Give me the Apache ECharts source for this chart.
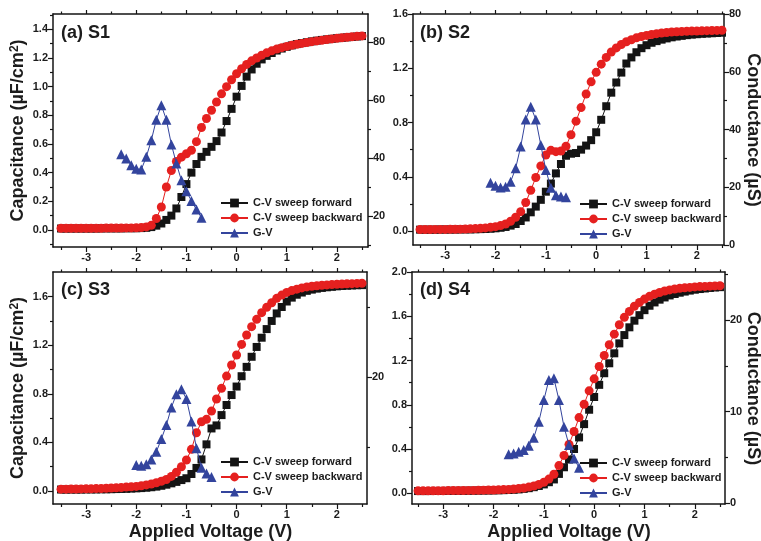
<!DOCTYPE html>
<html>
<head>
<meta charset="utf-8">
<script src="https://cdn.jsdelivr.net/npm/echarts@6/dist/echarts.min.js"></script>
<style>
  html, body { margin: 0; padding: 0; background: #fff; }
  #chart { width: 761px; height: 541px; }
</style>
</head>
<body>
<div id="chart"></div>
<script>
// Applied voltage of every C-V sweep point (V)
const voltage = [
  -3.5, -3.4, -3.3, -3.2, -3.1, -3.0, -2.9, -2.8, -2.7, -2.6,
  -2.5, -2.4, -2.3, -2.2, -2.1, -2.0, -1.9, -1.8, -1.7, -1.6,
  -1.5, -1.4, -1.3, -1.2, -1.1, -1.0, -0.9, -0.8, -0.7, -0.6,
  -0.5, -0.4, -0.3, -0.2, -0.1, 0.0, 0.1, 0.2, 0.3, 0.4,
  0.5, 0.6, 0.7, 0.8, 0.9, 1.0, 1.1, 1.2, 1.3, 1.4,
  1.5, 1.6, 1.7, 1.8, 1.9, 2.0, 2.1, 2.2, 2.3, 2.4, 2.5
];

// S1 capacitance (uF/cm2) and conductance (uS)
const s1Forward = [
  0.010, 0.010, 0.010, 0.010, 0.010, 0.010, 0.010, 0.010, 0.011, 0.011,
  0.011, 0.011, 0.011, 0.012, 0.012, 0.012, 0.013, 0.015, 0.020, 0.030,
  0.045, 0.070, 0.100, 0.150, 0.230, 0.320, 0.400, 0.460, 0.510, 0.545,
  0.580, 0.620, 0.680, 0.760, 0.845, 0.930, 1.005, 1.070, 1.120, 1.160,
  1.190, 1.215, 1.235, 1.252, 1.266, 1.278, 1.288, 1.297, 1.304, 1.310,
  1.316, 1.321, 1.326, 1.330, 1.334, 1.338, 1.341, 1.344, 1.347, 1.350, 1.353
];
const s1Backward = [
  0.012, 0.012, 0.012, 0.012, 0.012, 0.012, 0.012, 0.012, 0.012, 0.013,
  0.013, 0.013, 0.013, 0.014, 0.014, 0.015, 0.017, 0.021, 0.032, 0.080,
  0.160, 0.300, 0.415, 0.478, 0.508, 0.532, 0.556, 0.616, 0.715, 0.778,
  0.835, 0.893, 0.950, 1.000, 1.048, 1.090, 1.125, 1.155, 1.180, 1.200,
  1.220, 1.236, 1.250, 1.262, 1.272, 1.281, 1.289, 1.296, 1.302, 1.308,
  1.314, 1.319, 1.324, 1.329, 1.333, 1.337, 1.341, 1.345, 1.348, 1.351, 1.354
];
const s1GvVoltage = [-2.3, -2.2, -2.1, -2.0, -1.9, -1.8, -1.7, -1.6, -1.5, -1.4, -1.3, -1.2, -1.1, -1.0, -0.9, -0.8, -0.7];
const s1Conductance = [41.4, 39.9, 37.6, 36.4, 36.1, 40.5, 46.2, 53.3, 58.3, 53.3, 44.8, 38.2, 32.4, 28.6, 25.3, 22.3, 19.5];

// S2
const s2Forward = [
  0.010, 0.010, 0.010, 0.010, 0.011, 0.011, 0.011, 0.011, 0.012, 0.012,
  0.012, 0.013, 0.014, 0.015, 0.017, 0.020, 0.024, 0.030, 0.040, 0.052,
  0.074, 0.100, 0.138, 0.180, 0.230, 0.290, 0.350, 0.425, 0.494, 0.555,
  0.570, 0.575, 0.600, 0.630, 0.670, 0.728, 0.820, 0.920, 1.020, 1.095,
  1.168, 1.235, 1.280, 1.318, 1.348, 1.370, 1.388, 1.400, 1.411, 1.420,
  1.428, 1.434, 1.439, 1.444, 1.448, 1.451, 1.454, 1.456, 1.458, 1.460, 1.462
];
const s2Backward = [
  0.011, 0.011, 0.011, 0.012, 0.012, 0.012, 0.013, 0.013, 0.014, 0.015,
  0.016, 0.018, 0.020, 0.023, 0.027, 0.032, 0.040, 0.052, 0.072, 0.102,
  0.143, 0.210, 0.300, 0.395, 0.480, 0.560, 0.595, 0.585, 0.590, 0.625,
  0.710, 0.810, 0.910, 1.010, 1.100, 1.170, 1.230, 1.280, 1.320, 1.350,
  1.375, 1.395, 1.410, 1.424, 1.434, 1.442, 1.449, 1.455, 1.460, 1.464,
  1.467, 1.469, 1.471, 1.473, 1.474, 1.475, 1.476, 1.477, 1.478, 1.479, 1.480
];
const s2GvVoltage = [-2.1, -2.0, -1.9, -1.8, -1.7, -1.6, -1.5, -1.4, -1.3, -1.2, -1.1, -1.0, -0.9, -0.8, -0.7, -0.6];
const s2Conductance = [21.6, 20.5, 19.9, 20.2, 21.9, 26.6, 34.1, 43.5, 47.9, 43.5, 34.6, 26.0, 19.8, 17.2, 16.8, 16.5];

// S3
const s3Forward = [
  0.012, 0.012, 0.012, 0.012, 0.012, 0.013, 0.013, 0.013, 0.014, 0.014,
  0.015, 0.016, 0.017, 0.018, 0.020, 0.022, 0.024, 0.027, 0.031, 0.036,
  0.043, 0.052, 0.063, 0.075, 0.090, 0.105, 0.140, 0.190, 0.260, 0.384,
  0.515, 0.540, 0.625, 0.708, 0.790, 0.860, 0.945, 1.022, 1.105, 1.186,
  1.262, 1.333, 1.400, 1.462, 1.515, 1.560, 1.592, 1.616, 1.634, 1.648,
  1.658, 1.666, 1.672, 1.677, 1.681, 1.685, 1.688, 1.690, 1.692, 1.694, 1.695
];
const s3Backward = [
  0.015, 0.015, 0.016, 0.016, 0.017, 0.018, 0.019, 0.020, 0.021, 0.023,
  0.025, 0.027, 0.029, 0.032, 0.035, 0.038, 0.043, 0.050, 0.058, 0.068,
  0.080, 0.095, 0.120, 0.154, 0.200, 0.255, 0.343, 0.480, 0.570, 0.590,
  0.658, 0.757, 0.845, 0.946, 1.037, 1.120, 1.207, 1.284, 1.353, 1.413,
  1.468, 1.512, 1.550, 1.586, 1.613, 1.635, 1.650, 1.662, 1.672, 1.680,
  1.686, 1.690, 1.694, 1.697, 1.700, 1.702, 1.704, 1.706, 1.707, 1.709, 1.710
];
const s3GvVoltage = [-2.0, -1.9, -1.8, -1.7, -1.6, -1.5, -1.4, -1.3, -1.2, -1.1, -1.0, -0.9, -0.8, -0.7, -0.6, -0.5];
const s3Conductance = [7.5, 7.4, 7.6, 8.3, 9.4, 11.2, 13.2, 15.7, 17.6, 18.3, 16.9, 13.7, 9.9, 7.1, 6.3, 5.8];

// S4
const s4Forward = [
  0.020, 0.020, 0.020, 0.021, 0.021, 0.021, 0.022, 0.022, 0.022, 0.023,
  0.023, 0.024, 0.024, 0.025, 0.025, 0.026, 0.027, 0.028, 0.030, 0.032,
  0.035, 0.040, 0.046, 0.055, 0.066, 0.080, 0.100, 0.125, 0.175, 0.235,
  0.305, 0.400, 0.505, 0.625, 0.755, 0.870, 0.980, 1.085, 1.175, 1.265,
  1.355, 1.430, 1.500, 1.560, 1.610, 1.655, 1.695, 1.725, 1.750, 1.770,
  1.788, 1.801, 1.813, 1.823, 1.832, 1.840, 1.846, 1.851, 1.856, 1.860, 1.863
];
const s4Backward = [
  0.022, 0.022, 0.022, 0.023, 0.023, 0.023, 0.024, 0.024, 0.025, 0.025,
  0.026, 0.026, 0.027, 0.028, 0.029, 0.030, 0.031, 0.033, 0.035, 0.038,
  0.042, 0.048, 0.056, 0.066, 0.080, 0.100, 0.128, 0.172, 0.250, 0.342,
  0.442, 0.558, 0.684, 0.805, 0.926, 1.034, 1.146, 1.246, 1.342, 1.438,
  1.523, 1.590, 1.644, 1.690, 1.725, 1.755, 1.780, 1.800, 1.815, 1.828,
  1.838, 1.846, 1.852, 1.857, 1.861, 1.865, 1.868, 1.870, 1.872, 1.874, 1.876
];
const s4GvVoltage = [-1.7, -1.6, -1.5, -1.4, -1.3, -1.2, -1.1, -1.0, -0.9, -0.8, -0.7, -0.6, -0.5, -0.4, -0.3];
const s4Conductance = [5.35, 5.45, 5.63, 5.82, 6.29, 7.16, 8.9, 11.27, 13.45, 13.64, 11.27, 8.36, 6.36, 4.9, 3.88];

// Tick positions
const xMajorTicks = [-3, -2, -1, 0, 1, 2];
const xMinorTicks = [-3.5, -2.5, -1.5, -0.5, 0.5, 1.5, 2.5];
const capMajorTicksA = [0, 0.2, 0.4, 0.6, 0.8, 1.0, 1.2, 1.4];
const capMinorTicksA = [-0.1, 0.1, 0.3, 0.5, 0.7, 0.9, 1.1, 1.3, 1.5];
const capMajorTicksB = [0, 0.4, 0.8, 1.2, 1.6];
const capMinorTicksB = [0.2, 0.6, 1.0, 1.4];
const capMajorTicksD = [0, 0.4, 0.8, 1.2, 1.6, 2.0];
const capMinorTicksD = [0.2, 0.6, 1.0, 1.4, 1.8];
const condMajorTicksA = [20, 40, 60, 80];
const condMinorTicksA = [10, 30, 50, 70];
const condMajorTicksB = [0, 20, 40, 60, 80];
const condMinorTicksB = [10, 30, 50, 70];
const condMajorTicksC = [20];
const condMinorTicksC = [10, 30];
const condMajorTicksD = [0, 10, 20];
const condMinorTicksD = [5, 15, 25];

const seriesNames = ['C-V sweep forward', 'C-V sweep backward', 'G-V'];
const panelTitles = ['(a) S1', '(b) S2', '(c) S3', '(d) S4'];
const xTitle = 'Applied Voltage (V)';
const condTitle = 'Conductance (\u00b5S)';

const FONT = "'Liberation Sans', Arial, sans-serif";
const INK = '#1c1c1c';
const BLACK = '#141414';
const RED = '#e5201f';
const BLUE = '#33449d';

// Layout of the four panels (pixels) and their axis ranges
const panels = [
  { fwd: s1Forward, bwd: s1Backward, gv: s1GvVoltage, g: s1Conductance,
    box: { left: 53, top: 14, width: 315, height: 233 },
    x: [-3.66, 2.62], y: [-0.119, 1.507], gy: [9.4, 89.8],
    yMaj: capMajorTicksA, yMin: capMinorTicksA, gMaj: condMajorTicksA, gMin: condMinorTicksA,
    legend: { left: 220, top: 197 }, label: [61, 33] },
  { fwd: s2Forward, bwd: s2Backward, gv: s2GvVoltage, g: s2Conductance,
    box: { left: 413, top: 14, width: 311, height: 231 },
    x: [-3.64, 2.54], y: [-0.103, 1.6], gy: [0, 80],
    yMaj: capMajorTicksB, yMin: capMinorTicksB, gMaj: condMajorTicksB, gMin: condMinorTicksB,
    legend: { left: 579, top: 198 }, label: [420, 33] },
  { fwd: s3Forward, bwd: s3Backward, gv: s3GvVoltage, g: s3Conductance,
    box: { left: 53, top: 272, width: 314, height: 232 },
    x: [-3.66, 2.6], y: [-0.107, 1.803], gy: [1.95, 35],
    yMaj: capMajorTicksB, yMin: capMinorTicksB, gMaj: condMajorTicksC, gMin: condMinorTicksC,
    legend: { left: 220, top: 456 }, label: [61, 290.5] },
  { fwd: s4Forward, bwd: s4Backward, gv: s4GvVoltage, g: s4Conductance,
    box: { left: 412, top: 272, width: 313, height: 232 },
    x: [-3.62, 2.6], y: [-0.097, 2.0], gy: [-0.07, 25.24],
    yMaj: capMajorTicksD, yMin: capMinorTicksD, gMaj: condMajorTicksD, gMin: condMinorTicksD,
    legend: { left: 579, top: 457 }, label: [420, 290.5] }
];

const lineStyleAxis = { color: BLACK, width: 1.5 };
const labelStyle = { fontFamily: FONT, fontWeight: 'bold', fontSize: 11, color: INK };

function tickAxis(common, ticks, len, withLine, labels, margin, fmt) {
  return Object.assign({
    type: 'value',
    axisLine: { show: withLine, onZero: false, lineStyle: lineStyleAxis },
    axisTick: { show: true, inside: false, length: len, customValues: ticks, lineStyle: { color: BLACK, width: 1.2 } },
    axisLabel: labels
      ? Object.assign({ show: true, customValues: labels, margin: margin, formatter: fmt }, labelStyle)
      : { show: false },
    splitLine: { show: false },
    silent: true
  }, common);
}

const grid = [], xAxis = [], yAxis = [], series = [], legend = [], graphic = [];

panels.forEach((p, i) => {
  grid.push(Object.assign({ containLabel: false }, p.box));
  const xc = { gridIndex: i, min: p.x[0], max: p.x[1] };
  const xi = xAxis.length;
  xAxis.push(tickAxis(Object.assign({ position: 'bottom' }, xc), xMajorTicks, 5, true, xMajorTicks, 5, v => String(v)));
  xAxis.push(tickAxis(Object.assign({ position: 'bottom' }, xc), xMinorTicks, 3, false, null));
  xAxis.push(tickAxis(Object.assign({ position: 'top' }, xc), xMajorTicks, 4, true, null));
  xAxis.push(tickAxis(Object.assign({ position: 'top' }, xc), xMinorTicks, 2.5, false, null));

  const yc = { gridIndex: i, min: p.y[0], max: p.y[1] };
  const gc = { gridIndex: i, min: p.gy[0], max: p.gy[1] };
  const yi = yAxis.length;
  yAxis.push(tickAxis(Object.assign({ position: 'left' }, yc), p.yMaj, 5, true, p.yMaj, 5, v => v.toFixed(1)));
  yAxis.push(tickAxis(Object.assign({ position: 'left' }, yc), p.yMin, 3, false, null));
  const gi = yAxis.length;
  yAxis.push(tickAxis(Object.assign({ position: 'right' }, gc), p.gMaj, 5, true, p.gMaj, 5, v => String(Math.round(v))));
  yAxis.push(tickAxis(Object.assign({ position: 'right' }, gc), p.gMin, 3, false, null));

  const pairs = (xs, ys) => xs.map((v, k) => [v, ys[k]]);
  const base = { type: 'line', xAxisIndex: xi, showAllSymbol: true, animation: false, silent: true };
  series.push(Object.assign({}, base, {
    name: seriesNames[0], yAxisIndex: yi, data: pairs(voltage, p.fwd), z: 2,
    symbol: 'rect', symbolSize: 8, itemStyle: { color: BLACK }, lineStyle: { color: BLACK, width: 1 }
  }));
  series.push(Object.assign({}, base, {
    name: seriesNames[1], yAxisIndex: yi, data: pairs(voltage, p.bwd), z: 3,
    symbol: 'circle', symbolSize: 9, itemStyle: { color: RED }, lineStyle: { color: RED, width: 1 }
  }));
  series.push(Object.assign({}, base, {
    name: seriesNames[2], yAxisIndex: gi, data: pairs(p.gv, p.g), z: 4,
    symbol: 'triangle', symbolSize: 10, itemStyle: { color: BLUE }, lineStyle: { color: BLUE, width: 1 }
  }));

  legend.push({
    data: seriesNames, orient: 'vertical', left: p.legend.left, top: p.legend.top,
    padding: 0, itemGap: 3, itemWidth: 27, itemHeight: 11,
    textStyle: { fontFamily: FONT, fontWeight: 'bold', fontSize: 11, color: INK, lineHeight: 12 },
    selectedMode: false
  });

  graphic.push({
    type: 'text', x: p.label[0], y: p.label[1], silent: true,
    style: { text: panelTitles[i], fontFamily: FONT, fontWeight: 'bold', fontSize: 18, fill: INK,
             textAlign: 'left', textVerticalAlign: 'middle' }
  });
});

// Axis titles
const titleFont = { fontFamily: FONT, fontWeight: 'bold', fontSize: 18, fill: INK };
function capTitle(x, y) {
  return {
    type: 'text', x: x, y: y, rotation: Math.PI / 2, silent: true,
    style: Object.assign({
      text: '{m|Capacitance (\u00b5F/cm}{s|2}{m|)}',
      textAlign: 'center', textVerticalAlign: 'middle',
      rich: {
        m: { fontFamily: FONT, fontWeight: 'bold', fontSize: 18, lineHeight: 20, fill: INK },
        s: { fontFamily: FONT, fontWeight: 'bold', fontSize: 12, lineHeight: 12, verticalAlign: 'top', fill: INK }
      }
    }, titleFont)
  };
}
function plainTitle(text, x, y, rot) {
  return {
    type: 'text', x: x, y: y, rotation: rot, silent: true,
    style: Object.assign({ text: text, textAlign: 'center', textVerticalAlign: 'middle' }, titleFont)
  };
}
graphic.push(capTitle(18.5, 130.5));
graphic.push(capTitle(18.5, 388));
graphic.push(plainTitle(condTitle, 753, 130, -Math.PI / 2));
graphic.push(plainTitle(condTitle, 753, 388.5, -Math.PI / 2));
graphic.push(plainTitle(xTitle, 210.5, 532, 0));
graphic.push(plainTitle(xTitle, 569, 532, 0));

const chart = echarts.init(document.getElementById('chart'), null, { renderer: 'canvas' });
chart.setOption({
  backgroundColor: '#ffffff',
  animation: false,
  grid: grid,
  xAxis: xAxis,
  yAxis: yAxis,
  legend: legend,
  series: series,
  graphic: graphic
});
</script>
</body>
</html>
